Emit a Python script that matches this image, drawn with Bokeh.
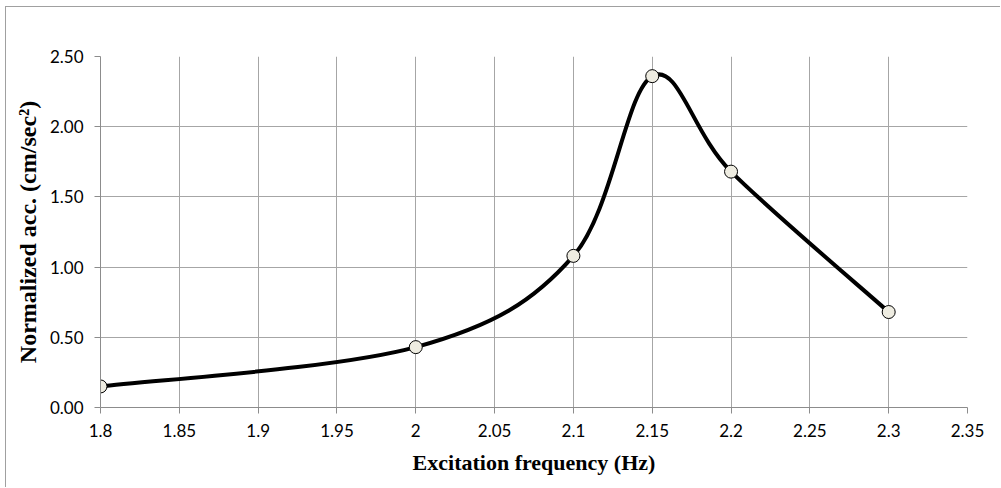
from bokeh.plotting import figure
from bokeh.models import FixedTicker, NumeralTickFormatter
from bokeh.embed import file_html
from bokeh.resources import INLINE

# Data
freq = [1.8, 2.0, 2.1, 2.15, 2.2, 2.3]
acc = [0.15, 0.43, 1.08, 2.36, 1.68, 0.68]
x_ticks = [1.8, 1.85, 1.9, 1.95, 2.0, 2.05, 2.1, 2.15, 2.2, 2.25, 2.3, 2.35]
x_tick_labels = ["1.8", "1.85", "1.9", "1.95", "2", "2.05", "2.1", "2.15", "2.2", "2.25", "2.3", "2.35"]
y_ticks = [0.0, 0.5, 1.0, 1.5, 2.0, 2.5]
x_title = "Excitation frequency (Hz)"
y_title = "Normalized acc. (cm/sec\u00b2)"

p = figure(width=995, height=481, output_backend="svg", toolbar_location=None,
           x_range=(1.8, 2.35), y_range=(0, 2.5),
           min_border_left=94, min_border_right=34, min_border_top=49, min_border_bottom=81)
p.styles = {"margin-left": "5px", "margin-top": "6px",
            "border-left": "1px solid #a0a0a0", "border-top": "1px solid #a0a0a0"}
p.outline_line_color = None
p.background_fill_color = "white"
p.border_fill_color = "white"

grid_color = "#a6a6a6"
axis_color = "#8c8c8c"
tick_font = "Lato"
title_font = "Liberation Serif"

p.xaxis.ticker = FixedTicker(ticks=x_ticks)
p.xaxis.major_label_overrides = {t: l for t, l in zip(x_ticks, x_tick_labels)}
p.yaxis.ticker = FixedTicker(ticks=y_ticks)
p.yaxis.formatter = NumeralTickFormatter(format="0.00")
p.xgrid.ticker = FixedTicker(ticks=x_ticks)
p.ygrid.ticker = FixedTicker(ticks=y_ticks)

for ax in (p.xaxis, p.yaxis):
    ax.axis_line_color = axis_color
    ax.major_tick_line_color = axis_color
    ax.major_tick_out = 6
    ax.major_tick_in = 0
    ax.minor_tick_line_color = None
    ax.major_label_text_font = tick_font
    ax.major_label_text_font_size = "17px"
    ax.major_label_text_color = "#000000"
    ax.axis_label_text_font = title_font
    ax.axis_label_text_font_style = "bold"
    ax.axis_label_text_color = "#000000"

p.xaxis.axis_label_text_font_size = "22px"
p.yaxis.axis_label_text_font_size = "24px"
p.xaxis.axis_label = x_title
p.yaxis.axis_label = y_title
p.xaxis.major_label_standoff = 10
p.yaxis.major_label_standoff = 11
p.xaxis.axis_label_standoff = 10
p.yaxis.axis_label_standoff = 6

p.xgrid.grid_line_color = grid_color
p.ygrid.grid_line_color = grid_color

# Smoothed curve (Bezier segments, control points derived from data, Excel-like smoothing)
n = len(freq)
x0s, y0s, x1s, y1s, cx0s, cy0s, cx1s, cy1s = [], [], [], [], [], [], [], []
for i in range(n - 1):
    pm = i - 1 if i > 0 else i
    pn = i + 2 if i + 2 < n else i + 1
    x0s.append(freq[i]); y0s.append(acc[i])
    x1s.append(freq[i + 1]); y1s.append(acc[i + 1])
    cx0s.append(freq[i] + (freq[i + 1] - freq[pm]) / 6.0)
    cy0s.append(acc[i] + (acc[i + 1] - acc[pm]) / 6.0)
    cx1s.append(freq[i + 1] - (freq[pn] - freq[i]) / 6.0)
    cy1s.append(acc[i + 1] - (acc[pn] - acc[i]) / 6.0)

p.bezier(x0=x0s, y0=y0s, x1=x1s, y1=y1s, cx0=cx0s, cy0=cy0s, cx1=cx1s, cy1=cy1s,
         line_color="black", line_width=4, line_cap="round")
p.scatter(freq, acc, size=13, marker="circle", fill_color="#eeece1",
          line_color="black", line_width=1)

open("out.html", "w").write(file_html(p, INLINE))
